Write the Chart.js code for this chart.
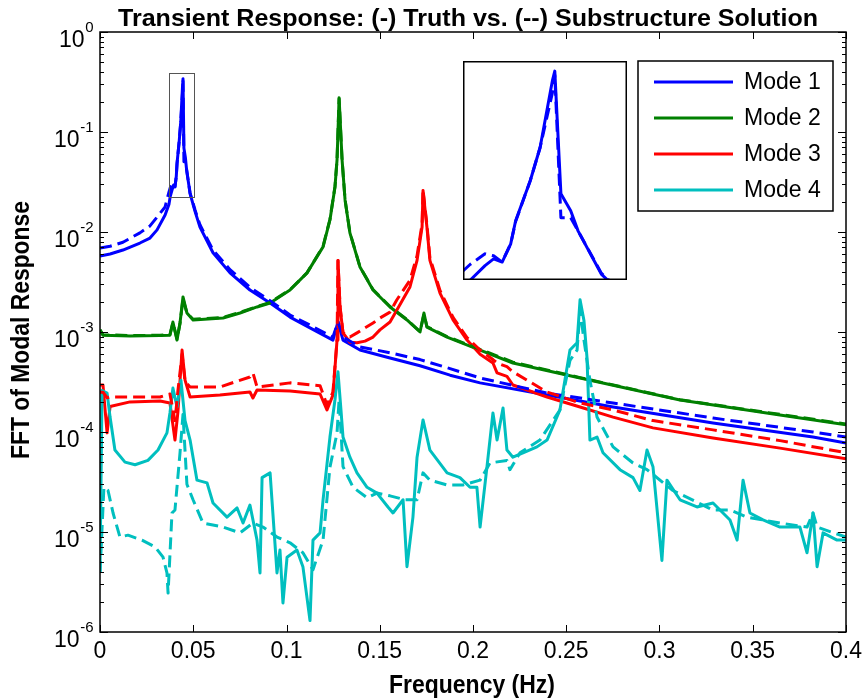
<!DOCTYPE html>
<html><head><meta charset="utf-8">
<script src="https://cdn.jsdelivr.net/npm/chart.js@4.4.1/dist/chart.umd.min.js"></script>
<style>
html,body{margin:0;padding:0;background:#fff;}
#wrap{position:relative;width:862px;height:700px;background:#fff;}
#main{position:absolute;left:0;top:0;}
#insetBox{position:absolute;left:463px;top:61px;width:164px;height:219px;background:#fff;}
</style></head><body>
<div id="wrap"><canvas id="main" width="862" height="700"></canvas>
<div id="insetBox"><canvas id="inset" width="164" height="219"></canvas></div></div>
<script>
// ---------- data ----------
const titleText = 'Transient Response: (-) Truth vs. (--) Substructure Solution';
const xLabel = 'Frequency (Hz)';
const yLabel = 'FFT of Modal Response';
const modeNames = ['Mode 1', 'Mode 2', 'Mode 3', 'Mode 4'];
const xTickValues = [0, 0.05, 0.1, 0.15, 0.2, 0.25, 0.3, 0.35, 0.4];
const xTickLabels = ['0', '0.05', '0.1', '0.15', '0.2', '0.25', '0.3', '0.35', '0.4'];
const yTickValues = [1e-6, 1e-5, 1e-4, 1e-3, 1e-2, 1e-1, 1];
const yTickExponents = ['-6', '-5', '-4', '-3', '-2', '-1', '0'];
const insetRange = [0.0370, 0.0504, 0.0224, 0.389]; // xmin, xmax, ymin, ymax

const m1Freq = [0, 0.0054, 0.0123, 0.0214, 0.0268, 0.0306, 0.0349, 0.0370, 0.0376, 0.0388, 0.0395, 0.0402, 0.0409, 0.0413, 0.0425, 0.0433, 0.0443, 0.0445, 0.0450, 0.0458, 0.0464, 0.0483, 0.0510, 0.0536, 0.0606, 0.0697, 0.0804, 0.0912, 0.1019, 0.1126, 0.1249, 0.1276, 0.1303, 0.1394, 0.1555, 0.1716, 0.1877, 0.2038, 0.2397, 0.2751, 0.3287, 0.3823, 0.4];
const m1Truth = [0.00575, 0.00603, 0.0066, 0.00776, 0.0087, 0.0105, 0.0148, 0.019, 0.0224, 0.027, 0.0295, 0.0283, 0.0359, 0.0485, 0.0819, 0.126, 0.30, 0.341, 0.069, 0.0552, 0.0425, 0.0242, 0.016, 0.0112, 0.0062, 0.0039, 0.00263, 0.00195, 0.00141, 0.0011, 0.00083, 0.00126, 0.00083, 0.00066, 0.00055, 0.00046, 0.00037, 0.00031, 0.000234, 0.000178, 0.000123, 0.000089, 0.0000776];
const m1Sub = [0.0069, 0.0072, 0.0079, 0.0098, 0.0115, 0.0141, 0.0178, 0.0252, 0.0275, 0.0315, 0.0307, 0.0283, 0.036, 0.048, 0.082, 0.126, 0.256, 0.324, 0.0504, 0.0504, 0.0425, 0.0245, 0.0165, 0.0118, 0.0066, 0.0042, 0.0028, 0.00205, 0.00148, 0.00117, 0.00089, 0.00126, 0.00089, 0.00071, 0.00062, 0.00053, 0.00043, 0.000347, 0.000245, 0.000195, 0.000138, 0.0001, 0.000089];

const m2Freq = [0, 0.0016, 0.0161, 0.0322, 0.0375, 0.0391, 0.0413, 0.0429, 0.0445, 0.0466, 0.0499, 0.066, 0.0751, 0.0842, 0.0912, 0.1019, 0.111, 0.1196, 0.1233, 0.126, 0.1271, 0.1282, 0.1298, 0.1314, 0.134, 0.1394, 0.1464, 0.1555, 0.1646, 0.1716, 0.1737, 0.1753, 0.1861, 0.2038, 0.2214, 0.2574, 0.311, 0.3646, 0.4];
const m2Truth = [0.00105, 0.00093, 0.00091, 0.00092, 0.00093, 0.00126, 0.00083, 0.00123, 0.00224, 0.00155, 0.00132, 0.00138, 0.00155, 0.00178, 0.00195, 0.00263, 0.0039, 0.0071, 0.0132, 0.0282, 0.0525, 0.22, 0.0525, 0.0209, 0.0098, 0.00447, 0.00263, 0.00178, 0.00132, 0.001, 0.00155, 0.00112, 0.00089, 0.00066, 0.00049, 0.000347, 0.000209, 0.000148, 0.000118];
const m2Sub = [0.00105, 0.00094, 0.00092, 0.00093, 0.00094, 0.00124, 0.00085, 0.00122, 0.00215, 0.00155, 0.00134, 0.0014, 0.00157, 0.0018, 0.00197, 0.00265, 0.0039, 0.0072, 0.0134, 0.0285, 0.053, 0.215, 0.053, 0.021, 0.0099, 0.0045, 0.00265, 0.0018, 0.00133, 0.00101, 0.0015, 0.00113, 0.0009, 0.00067, 0.0005, 0.00035, 0.00021, 0.00015, 0.00012];

const m3Freq = [0, 0.0016, 0.0038, 0.0054, 0.0161, 0.0322, 0.0375, 0.0402, 0.0418, 0.044, 0.0456, 0.0483, 0.0643, 0.0804, 0.082, 0.0842, 0.1019, 0.118, 0.1217, 0.1249, 0.1271, 0.1276, 0.1287, 0.1303, 0.134, 0.1378, 0.1421, 0.1464, 0.1501, 0.1555, 0.1592, 0.1662, 0.17, 0.1727, 0.1732, 0.1753, 0.1769, 0.1823, 0.1893, 0.1968, 0.2038, 0.2107, 0.2129, 0.2182, 0.2214, 0.2397, 0.2574, 0.2751, 0.2965, 0.3287, 0.3646, 0.4];
const m3Truth = [0.000295, 0.000295, 0.000098, 0.00018, 0.0002, 0.000204, 0.000195, 0.000083, 0.00016, 0.00066, 0.00033, 0.000224, 0.000234, 0.000251, 0.000219, 0.000263, 0.000257, 0.00024, 0.000166, 0.000234, 0.00083, 0.0052, 0.00178, 0.00098, 0.00079, 0.00078, 0.00081, 0.00089, 0.00105, 0.00126, 0.00166, 0.00282, 0.0052, 0.0112, 0.026, 0.0112, 0.0052, 0.00245, 0.00132, 0.00083, 0.0006, 0.00049, 0.00039, 0.00036, 0.000295, 0.000224, 0.000178, 0.000141, 0.00011, 0.000087, 0.000069, 0.000054];
const m3Sub = [0.00025, 0.00025, 0.00022, 0.000224, 0.000224, 0.000224, 0.00024, 0.00013, 0.00026, 0.0006, 0.00032, 0.000282, 0.000282, 0.000355, 0.00039, 0.000282, 0.00031, 0.00029, 0.000186, 0.00025, 0.00083, 0.0052, 0.0018, 0.00098, 0.00089, 0.00098, 0.0011, 0.00123, 0.00138, 0.00158, 0.0021, 0.0033, 0.0058, 0.012, 0.0265, 0.0118, 0.0055, 0.0026, 0.0014, 0.00088, 0.00066, 0.00053, 0.00049, 0.00045, 0.0004, 0.000251, 0.000195, 0.000166, 0.00013, 0.000105, 0.000082, 0.000062];

const m4TruthFreq = [0, 0.0011, 0.0038, 0.0054, 0.008, 0.0134, 0.0188, 0.0257, 0.0311, 0.0359, 0.0375, 0.0391, 0.0413, 0.0434, 0.0456, 0.0483, 0.052, 0.0574, 0.0606, 0.0681, 0.0735, 0.0767, 0.0804, 0.0842, 0.0858, 0.0869, 0.0912, 0.0922, 0.0949, 0.0965, 0.0981, 0.1003, 0.1056, 0.1088, 0.1126, 0.1142, 0.118, 0.1196, 0.1233, 0.126, 0.1276, 0.1292, 0.1303, 0.134, 0.1378, 0.1432, 0.1485, 0.1544, 0.1571, 0.1625, 0.1646, 0.1678, 0.17, 0.1732, 0.1769, 0.1861, 0.193, 0.1984, 0.2021, 0.2038, 0.2075, 0.2107, 0.2129, 0.2161, 0.2182, 0.2214, 0.2268, 0.2343, 0.2397, 0.2466, 0.252, 0.2558, 0.2574, 0.2595, 0.2611, 0.2627, 0.2665, 0.2697, 0.2788, 0.2858, 0.2895, 0.2933, 0.2965, 0.3013, 0.304, 0.311, 0.3201, 0.3287, 0.3378, 0.3416, 0.3448, 0.3485, 0.3555, 0.3646, 0.3753, 0.3791, 0.3823, 0.3845, 0.3877, 0.3952, 0.4];
const m4Truth = [3.9e-6, 2.6e-4, 2.45e-4, 1.41e-4, 6.6e-5, 5.0e-5, 4.7e-5, 5.2e-5, 6.6e-5, 9.8e-5, 1.55e-4, 2.75e-4, 1.78e-4, 3.3e-4, 1.3e-4, 8.3e-5, 3.3e-5, 3.1e-5, 1.95e-5, 1.41e-5, 1.74e-5, 1.23e-5, 1.86e-5, 8.3e-6, 3.9e-6, 3.5e-5, 3.9e-5, 2.1e-5, 3.9e-6, 6.6e-6, 1.95e-6, 5.6e-6, 6.6e-6, 4.5e-6, 1.3e-6, 8.3e-6, 9.8e-6, 2.1e-5, 8.9e-5, 2.1e-4, 4.0e-4, 1.66e-4, 8.9e-5, 5.6e-5, 3.9e-5, 2.8e-5, 2.45e-5, 1.78e-5, 1.55e-5, 2.1e-5, 4.5e-6, 1.41e-5, 5.6e-5, 1.32e-4, 6.6e-5, 3.9e-5, 3.5e-5, 2.8e-5, 2.8e-5, 1.12e-5, 4.5e-5, 1.55e-4, 8.3e-5, 1.74e-4, 6.6e-5, 5.6e-5, 6.2e-5, 7.1e-5, 8.3e-5, 1.66e-4, 6.6e-4, 7.8e-4, 2.1e-3, 1.3e-3, 5.6e-4, 8.3e-5, 8.9e-5, 6.2e-5, 4.2e-5, 3.5e-5, 2.6e-5, 6.6e-5, 4.5e-5, 5.2e-6, 3.3e-5, 2.1e-5, 1.78e-5, 1.95e-5, 1.32e-5, 8.3e-6, 3.3e-5, 1.55e-5, 1.32e-5, 1.12e-5, 1.12e-5, 6.2e-6, 1.55e-5, 4.5e-6, 9.8e-6, 8.3e-6, 8.3e-6];

const m4SubFreq = [0, 0.0021, 0.0043, 0.007, 0.0107, 0.015, 0.0225, 0.0295, 0.0338, 0.0359, 0.0365, 0.0386, 0.0402, 0.0429, 0.0445, 0.0466, 0.0499, 0.0552, 0.066, 0.0751, 0.082, 0.0874, 0.0949, 0.1019, 0.1088, 0.1142, 0.1196, 0.1233, 0.1271, 0.1282, 0.1303, 0.1357, 0.1432, 0.1485, 0.1555, 0.1635, 0.17, 0.1732, 0.1769, 0.1861, 0.1946, 0.2038, 0.2091, 0.2182, 0.2198, 0.2252, 0.2359, 0.2466, 0.252, 0.2558, 0.2574, 0.2595, 0.2627, 0.2665, 0.2751, 0.2858, 0.2933, 0.3072, 0.3287, 0.3378, 0.3469, 0.3646, 0.3791, 0.3823, 0.3845, 0.4];
const m4Sub = [3.9e-6, 2.8e-5, 2.6e-5, 1.55e-5, 8.9e-6, 9.3e-6, 8.3e-6, 7.1e-6, 5.6e-6, 3.9e-6, 2.45e-6, 1.55e-5, 1.66e-5, 6.2e-5, 1.5e-4, 3.0e-5, 2.1e-5, 1.23e-5, 1.12e-5, 9.8e-6, 1.23e-5, 1.12e-5, 8.9e-6, 7.8e-6, 6.2e-6, 4.2e-6, 8.3e-6, 4.45e-5, 9.8e-5, 2.1e-4, 4.5e-5, 2.8e-5, 2.2e-5, 2.45e-5, 2.3e-5, 2.1e-5, 2.1e-5, 3.9e-5, 3.3e-5, 2.95e-5, 2.95e-5, 3.3e-5, 4.9e-5, 5.2e-5, 4.2e-5, 6.2e-5, 8.3e-5, 1.66e-4, 5.2e-4, 6.6e-4, 1.66e-3, 8.3e-4, 3.3e-4, 1.41e-4, 7.1e-5, 4.9e-5, 4.2e-5, 2.6e-5, 1.66e-5, 1.66e-5, 1.41e-5, 1.23e-5, 1.12e-5, 1.55e-5, 1.12e-5, 8.9e-6];

const modeColors = ['#0000FF', '#008000', '#FF0000', '#00BFBF'];

// ---------- build datasets ----------
function pts(fx, fy) { return fx.map((f, i) => ({ x: f, y: fy[i] })); }
const truthSets = [[m1Freq, m1Truth], [m2Freq, m2Truth], [m3Freq, m3Truth], [m4TruthFreq, m4Truth]];
const subSets = [[m1Freq, m1Sub], [m2Freq, m2Sub], [m3Freq, m3Sub], [m4SubFreq, m4Sub]];
const datasets = [];
truthSets.forEach((s, i) => datasets.push({ label: modeNames[i], data: pts(s[0], s[1]), borderColor: modeColors[i], borderWidth: 3, order: 7 - i }));
subSets.forEach((s, i) => datasets.push({ label: modeNames[i] + ' (sub)', data: pts(s[0], s[1]), borderColor: modeColors[i], borderWidth: 3, borderDash: [12, 6], order: 3 - i }));

const FONT = '"Liberation Sans", Arial, sans-serif';

function fitText(ctx, text, x, y, font, targetW) {
  ctx.font = font;
  const w = ctx.measureText(text).width;
  ctx.save();
  ctx.translate(x, y);
  if (targetW) ctx.scale(targetW / w, 1);
  ctx.fillText(text, 0, 0);
  ctx.restore();
}
function seg(ctx, x1, y1, x2, y2) { ctx.beginPath(); ctx.moveTo(x1, y1); ctx.lineTo(x2, y2); ctx.stroke(); }

const deco = {
  id: 'deco',
  afterDraw(chart) {
    const ctx = chart.ctx, a = chart.chartArea, xs = chart.scales.x, ys = chart.scales.y;
    ctx.save();
    ctx.strokeStyle = '#000';
    ctx.fillStyle = '#000';
    // ticks
    ctx.lineWidth = 1;
    xTickValues.forEach(v => {
      const px = Math.round(xs.getPixelForValue(v)) + 0.5;
      seg(ctx, px, a.bottom, px, a.bottom - 7);
      seg(ctx, px, a.top, px, a.top + 7);
    });
    yTickValues.forEach((v, i) => {
      const py = Math.round(ys.getPixelForValue(v)) + 0.5;
      seg(ctx, a.left, py, a.left + 8, py);
      seg(ctx, a.right, py, a.right - 8, py);
      if (i < yTickValues.length - 1) {
        for (let m = 2; m <= 9; m++) {
          const q = Math.round(ys.getPixelForValue(v * m)) + 0.5;
          seg(ctx, a.left, q, a.left + 4, q);
          seg(ctx, a.right, q, a.right - 4, q);
        }
      }
    });
    // axes box
    ctx.lineWidth = 1.5;
    ctx.strokeRect(a.left, a.top, a.right - a.left, a.bottom - a.top);
    // zoom rectangle
    ctx.lineWidth = 1;
    ctx.strokeStyle = '#555';
    const rx1 = xs.getPixelForValue(insetRange[0]), rx2 = xs.getPixelForValue(insetRange[1]);
    const ry1 = ys.getPixelForValue(insetRange[3]), ry2 = ys.getPixelForValue(insetRange[2]);
    ctx.strokeRect(Math.round(rx1) + 0.5, Math.round(ry1) + 0.5, Math.round(rx2 - rx1), Math.round(ry2 - ry1));
    // x tick labels
    ctx.textAlign = 'center';
    ctx.textBaseline = 'middle';
    ctx.font = '23px ' + FONT;
    xTickValues.forEach((v, i) => ctx.fillText(xTickLabels[i], xs.getPixelForValue(v), a.bottom + 20));
    // y tick labels with superscript
    yTickValues.forEach((v, i) => {
      const py = ys.getPixelForValue(v);
      ctx.font = '23px ' + FONT;
      const w1 = ctx.measureText('10').width;
      ctx.font = '15px ' + FONT;
      const w2 = ctx.measureText(yTickExponents[i]).width;
      const x0 = 93 - w1 - w2;
      ctx.textAlign = 'left';
      ctx.font = '23px ' + FONT;
      ctx.fillText('10', x0, py + 9);
      ctx.font = '15px ' + FONT;
      ctx.fillText(yTickExponents[i], x0 + w1 + 0.5, py - 4);
    });
    // title & axis labels
    ctx.textAlign = 'center';
    fitText(ctx, titleText, 468, 19, 'bold 24px ' + FONT, 700);
    fitText(ctx, xLabel, 472, 686, 'bold 25px ' + FONT, 166);
    ctx.save();
    ctx.translate(22, 330);
    ctx.rotate(-Math.PI / 2);
    fitText(ctx, yLabel, 0, 0, 'bold 25px ' + FONT, 258);
    ctx.restore();
    // legend
    const lx = 638, ly = 61, lw = 195, lh = 150;
    ctx.fillStyle = '#fff';
    ctx.fillRect(lx, ly, lw, lh);
    ctx.strokeStyle = '#000';
    ctx.lineWidth = 1.5;
    ctx.strokeRect(lx, ly, lw, lh);
    ctx.font = '23px ' + FONT;
    ctx.textAlign = 'left';
    modeNames.forEach((n, i) => {
      const yy = 82 + i * 36;
      ctx.strokeStyle = chart.data.datasets[i].borderColor;
      ctx.lineWidth = 3;
      seg(ctx, 654, yy, 733, yy);
      ctx.fillStyle = '#000';
      ctx.fillText(n, 744, yy + 1);
    });
    ctx.restore();
  }
};

new Chart(document.getElementById('main'), {
  type: 'line',
  data: { datasets },
  options: {
    responsive: false, animation: false, devicePixelRatio: 1,
    layout: { padding: { top: 32, right: 16, left: 0, bottom: 0 } },
    elements: { line: { tension: 0, borderJoinStyle: 'round' }, point: { radius: 0 } },
    plugins: { legend: { display: false }, title: { display: false }, tooltip: { enabled: false } },
    scales: {
      x: { type: 'linear', min: 0, max: 0.4, grid: { display: false, drawTicks: false }, border: { display: false }, ticks: { display: false, stepSize: 0.05 }, afterFit(s) { s.height = 68; } },
      y: { type: 'logarithmic', min: 1e-6, max: 1, grid: { display: false, drawTicks: false }, border: { display: false }, ticks: { display: false }, afterFit(s) { s.width = 100; } }
    }
  },
  plugins: [deco]
});

// ---------- inset (zoom of Mode 1 peak) ----------
const insetBorder = {
  id: 'insetBorder',
  beforeDraw(chart) { const c = chart.ctx; c.save(); c.fillStyle = '#fff'; c.fillRect(0, 0, chart.width, chart.height); c.restore(); },
  afterDraw(chart) { const c = chart.ctx; c.save(); c.strokeStyle = '#000'; c.lineWidth = 1.5; c.strokeRect(0.75, 0.75, chart.width - 1.5, chart.height - 1.5); c.restore(); }
};
new Chart(document.getElementById('inset'), {
  type: 'line',
  data: { datasets: [
    { label: 'Mode 1 (sub)', data: pts(m1Freq, m1Sub), borderColor: modeColors[0], borderWidth: 3, borderDash: [12, 6], order: 0 },
    { label: 'Mode 1', data: pts(m1Freq, m1Truth), borderColor: modeColors[0], borderWidth: 3, order: 1 }
  ] },
  options: {
    responsive: false, animation: false, devicePixelRatio: 1,
    layout: { padding: 0 },
    elements: { line: { tension: 0, borderJoinStyle: 'round' }, point: { radius: 0 } },
    plugins: { legend: { display: false }, title: { display: false }, tooltip: { enabled: false } },
    scales: {
      x: { type: 'linear', display: false, min: insetRange[0], max: insetRange[1] },
      y: { type: 'logarithmic', display: false, min: insetRange[2], max: insetRange[3] }
    }
  },
  plugins: [insetBorder]
});
</script>
</body></html>
